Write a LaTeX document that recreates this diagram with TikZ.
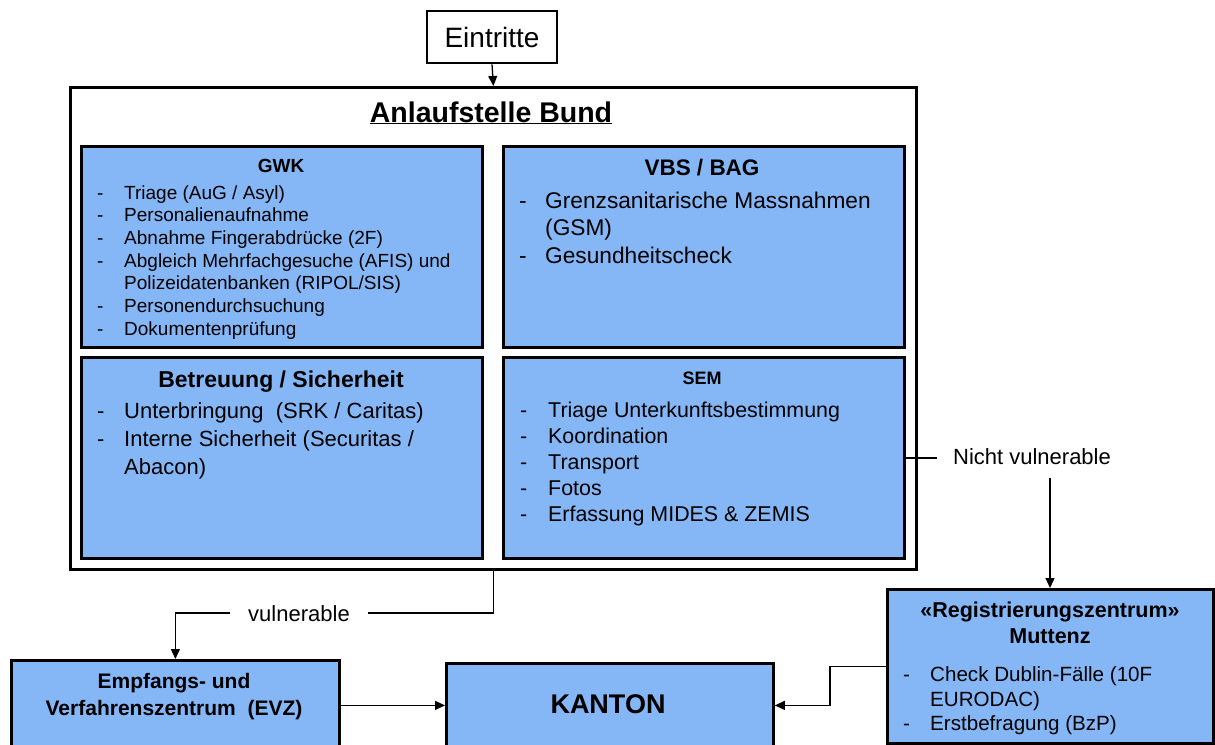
\documentclass[tikz,border=0pt]{standalone}
\usepackage{fontspec}
\setmainfont{Liberation Sans}
\usetikzlibrary{arrows.meta}
\definecolor{boxblue}{RGB}{133,183,247}
\newcommand\fsz[2]{\fontsize{#1pt}{#2pt}\selectfont}
\tikzset{
  bluebox/.style={draw, line width=2.8pt, fill=boxblue, inner sep=0pt, anchor=north west},
  whitebox/.style={draw, line width=2.8pt, fill=white, inner sep=0pt, anchor=north west},
  conn/.style={line width=1.3pt},
  arr/.style={conn, -{Triangle[length=10pt,width=9pt]}},
  txt/.style={anchor=base, inner sep=0pt},
  lst/.style={anchor=base west, inner sep=0pt},
  lbl/.style={anchor=base, inner ysep=3pt}
}
\begin{document}
\begin{tikzpicture}[x=1pt,y=-1pt]
\useasboundingbox[fill=white] (0,0) rectangle (1215,744);

% Eintritte
\node[draw, line width=2.8pt, fill=white, minimum width=130pt, minimum height=52pt, font=\fsz{28}{32}] (ein) at (492,37) {Eintritte};

% outer box
\node[whitebox, minimum width=846pt, minimum height=482pt] (outer) at (69,86) {};
\node[txt, font=\bfseries\fsz{28.5}{32}] (anl) at (491,122) {\underline{Anlaufstelle Bund}};

% GWK
\node[bluebox, minimum width=401pt, minimum height=201pt] (gwk) at (80,145) {};
\node[txt, font=\bfseries\fsz{19}{22}] (gwkt) at (281,172) {GWK};
\node[lst] (gwkl) at (97,199) {\fsz{19}{22.7}\begin{tabular}[t]{@{}p{27pt}@{}l@{}}
-&Triage (AuG / Asyl)\\
-&Personalienaufnahme\\
-&Abnahme Fingerabdrücke (2F)\\
-&Abgleich Mehrfachgesuche (AFIS) und\\
&Polizeidatenbanken (RIPOL/SIS)\\
-&Personendurchsuchung\\
-&Dokumentenprüfung
\end{tabular}};

% VBS / BAG
\node[bluebox, minimum width=401pt, minimum height=201pt] (vbs) at (502,145) {};
\node[txt, font=\bfseries\fsz{22.5}{26}] (vbst) at (702,175) {VBS / BAG};
\node[lst] (vbsl) at (519,208) {\fsz{22.7}{27.5}\begin{tabular}[t]{@{}p{26pt}@{}l@{}}
-&Grenzsanitarische Massnahmen\\
&(GSM)\\
-&Gesundheitscheck
\end{tabular}};

% Betreuung / Sicherheit
\node[bluebox, minimum width=401pt, minimum height=201pt] (bet) at (80,356) {};
\node[txt, font=\bfseries\fsz{23}{27}] (bett) at (281,387) {Betreuung / Sicherheit};
\node[lst] (betl) at (97,418) {\fsz{22}{28}\begin{tabular}[t]{@{}p{27pt}@{}l@{}}
-&Unterbringung \ (SRK / Caritas)\\
-&Interne Sicherheit (Securitas /\\
&Abacon)
\end{tabular}};

% SEM
\node[bluebox, minimum width=401pt, minimum height=201pt] (sem) at (502,356) {};
\node[txt, font=\bfseries\fsz{18}{21}] (semt) at (702,384) {SEM};
\node[lst] (seml) at (520,417) {\fsz{21.4}{26}\begin{tabular}[t]{@{}p{28pt}@{}l@{}}
-&Triage Unterkunftsbestimmung\\
-&Koordination\\
-&Transport\\
-&Fotos\\
-&Erfassung MIDES \& ZEMIS
\end{tabular}};

% Registrierungszentrum
\node[bluebox, minimum width=326pt, minimum height=154pt] (reg) at (886,588) {};
\node[txt, font=\bfseries\fsz{21.5}{24}] (regt1) at (1050,617.5) {«Registrierungszentrum»};
\node[txt, font=\bfseries\fsz{21.5}{24}] (regt2) at (1050,643.5) {Muttenz};
\node[lst] (regl) at (903,681.5) {\fsz{20.6}{24.5}\begin{tabular}[t]{@{}p{27pt}@{}l@{}}
-&Check Dublin-Fälle (10F\\
&EURODAC)\\
-&Erstbefragung (BzP)
\end{tabular}};

% EVZ
\node[bluebox, minimum width=328pt, minimum height=92pt] (evz) at (10,659) {};
\node[txt, font=\bfseries\fsz{21}{25}] (evzt1) at (174,688.5) {Empfangs- und};
\node[txt, font=\bfseries\fsz{21}{25}] (evzt2) at (174,715.5) {Verfahrenszentrum \ (EVZ)};

% KANTON
\node[bluebox, minimum width=327pt, minimum height=84pt] (kan) at (445,662) {};
\node[txt, font=\bfseries\fsz{27}{32}] (kant) at (608,713) {KANTON};

% labels
\node[lbl, inner xsep=16pt, font=\fsz{22}{25}] (nv) at (1032,464) {Nicht vulnerable};
\node[lbl, inner xsep=18pt, font=\fsz{22}{26}] (vul) at (299,621) {vulnerable};
\coordinate (nvd) at (1050,478);

% connectors
\draw[arr] (ein.south) -- (outer.north);
\draw[conn] (sem.east) -- (sem.east -| nv.west);
\draw[arr] (nvd) -- (nvd |- reg.north);
\draw[conn] (outer.south) |- (vul.east);
\draw[arr] (vul.west) -| (evz.north);
\draw[arr] (evz.east |- kan.west) -- (kan.west);
\draw[arr] (reg.west) -- ++(-56,0) |- (kan.east);
\end{tikzpicture}
\end{document}
